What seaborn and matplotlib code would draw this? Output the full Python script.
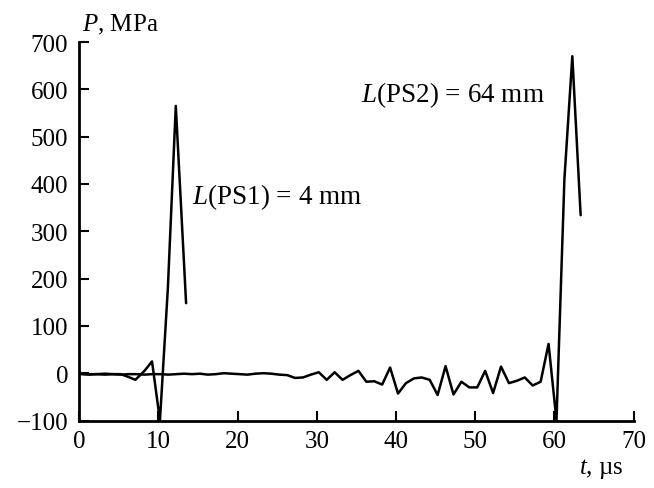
import matplotlib
matplotlib.use("Agg")
import matplotlib.pyplot as plt
import seaborn as sns
import pandas as pd

# PS1 gauge (4 mm)
t_ps1 = [0.25, 1.25, 2.25, 3.25, 4.25, 5.25, 6.25, 7.1, 8.25, 9.2, 10.2, 11.2, 12.2, 13.5]
p_ps1 = [-1, -2, -2, -1, -2, -2, -8, -14, 5, 25, -100, 180, 565, 148]

# PS2 gauge (64 mm)
t_ps2 = [0.25, 1.25, 2.25, 3.25, 4.25, 5.25, 6.25, 7.25, 8.25, 9.25,
         10.25, 11.25, 12.25, 13.25, 14.25, 15.25, 16.25, 17.25, 18.25, 19.25,
         20.25, 21.25, 22.25, 23.25, 24.25, 25.25, 26.25, 27.25, 28.25, 29.25,
         30.25, 31.25, 32.25, 33.25, 34.25, 35.25, 36.25, 37.25, 38.25, 39.25,
         40.25, 41.25, 42.25, 43.25, 44.25, 45.25, 46.25, 47.25, 48.25, 49.25,
         50.25, 51.25, 52.25, 53.25, 54.25, 55.25, 56.25, 57.25, 58.25, 59.25,
         60.25, 61.25, 62.25, 63.3]
p_ps2 = [-2, -3, -2, -3, -2, -3, -2, -2, -3, -2,
         -2, -3, -2, -1, -2, -1, -3, -2, 0, -1,
         -2, -3, -1, 0, -1, -3, -4, -10, -9, -3,
         2, -14, 2, -14, -4, 5, -18, -17, -24, 12,
         -43, -21, -11, -9, -14, -46, 15, -45, -18, -30,
         -30, 5, -42, 14, -21, -16, -9, -26, -18, 62,
         -100, 410, 670, 334]

x_ticks = [0, 10, 20, 30, 40, 50, 60, 70]
y_ticks = [-100, 0, 100, 200, 300, 400, 500, 600, 700]

sns.set_style("ticks")
plt.rcParams["font.family"] = ["Liberation Serif", "DejaVu Serif"]
plt.rcParams["mathtext.fontset"] = "custom"
plt.rcParams["mathtext.rm"] = "Liberation Serif"
plt.rcParams["mathtext.it"] = "Liberation Serif:italic"
plt.rcParams["text.color"] = "black"
plt.rcParams["xtick.color"] = "black"
plt.rcParams["ytick.color"] = "black"
plt.rcParams["axes.edgecolor"] = "black"

df1 = pd.DataFrame({"t": t_ps1, "P": p_ps1})
df2 = pd.DataFrame({"t": t_ps2, "P": p_ps2})

fig = plt.figure(figsize=(6.54, 4.89), dpi=100)
ax = fig.add_axes([0.121, 0.138, 0.848, 0.774])

sns.lineplot(data=df1, x="t", y="P", ax=ax, color="black", linewidth=1.8, sort=False)
sns.lineplot(data=df2, x="t", y="P", ax=ax, color="black", linewidth=1.8, sort=False)

ax.set_xlim(0, 70)
ax.set_ylim(-100, 700)
ax.set_xticks(x_ticks)
ax.set_yticks(y_ticks)
ax.set_yticklabels(["\u2212100"] + [str(v) for v in y_ticks[1:]])
ax.tick_params(direction="in", length=7, width=1.5, labelsize=18, labelcolor="black")
ax.tick_params(axis="x", pad=7)
ax.tick_params(axis="y", pad=8)
for side in ["left", "bottom"]:
    ax.spines[side].set_linewidth(2)
sns.despine(ax=ax)
ax.set_xlabel("")
ax.set_ylabel("")

ax.text(0.902, -0.095, r"$t$, µs", transform=ax.transAxes, fontsize=18, ha="left", va="top")
ax.text(0.006, 1.015, r"$P$, MPa", transform=ax.transAxes, fontsize=18, ha="left", va="bottom")

ax.text(14.3, 375, r"$L$(PS1) = 4 mm", fontsize=19.5, ha="left", va="center")
ax.text(35.6, 590, r"$L$(PS2) = 64 mm", fontsize=19.5, ha="left", va="center")

fig.savefig("out.png", dpi=100)
